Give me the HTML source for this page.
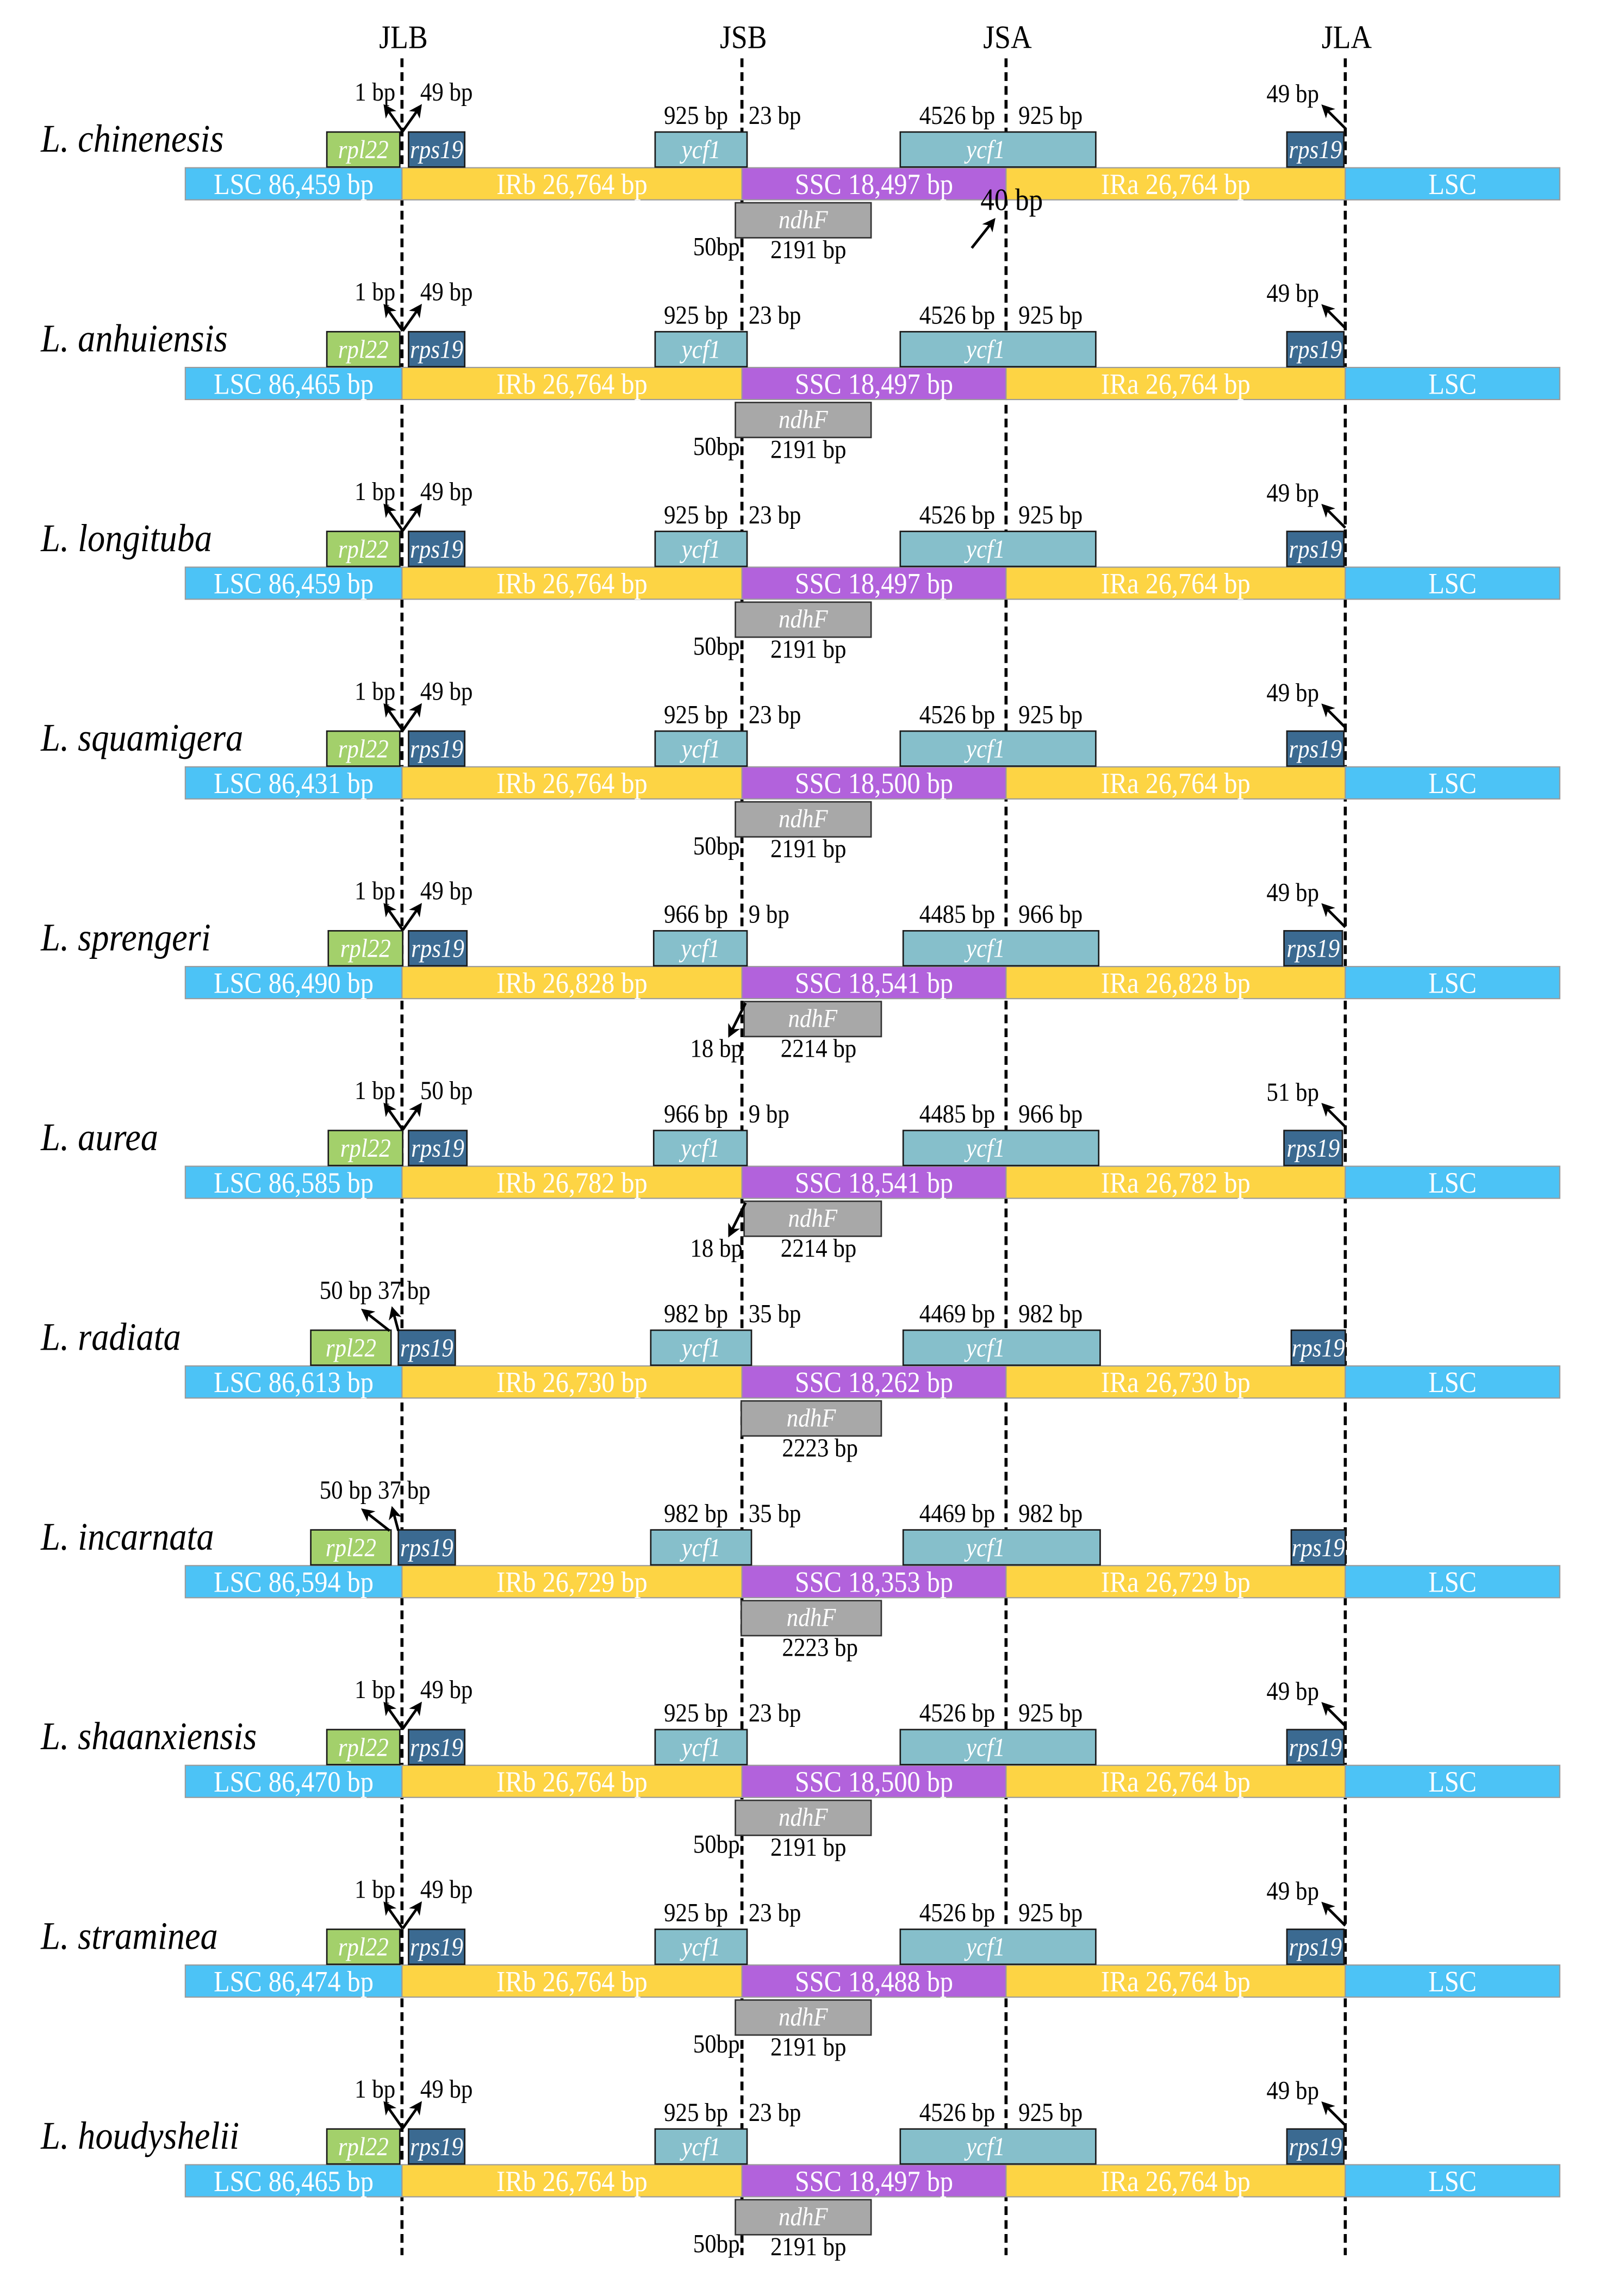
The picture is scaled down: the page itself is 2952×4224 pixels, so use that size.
<!DOCTYPE html>
<html><head><meta charset="utf-8">
<style>
html,body{margin:0;padding:0;background:#fff;}
svg{display:block;}
text{font-family:"Liberation Serif",serif;}
</style></head>
<body>
<svg id="chart" width="2952" height="4224" viewBox="0 0 1100 1574" preserveAspectRatio="none" xmlns="http://www.w3.org/2000/svg">
<defs>
<marker id="ah" markerWidth="9" markerHeight="9" refX="7" refY="4.5" orient="auto" markerUnits="userSpaceOnUse">
<path d="M0,0 L9,4.5 L0,9 L2.5,4.5 Z" fill="#000"/>
</marker>
</defs>
<rect x="0" y="0" width="1100" height="1574" fill="#fff"/>
<g id="junctions"></g>
<g id="rows"></g>
</svg>
<script>
const species=["L. chinenesis","L. anhuiensis","L. longituba","L. squamigera","L. sprengeri","L. aurea","L. radiata","L. incarnata","L. shaanxiensis","L. straminea","L. houdyshelii"];
const lscLen=["86,459","86,465","86,459","86,431","86,490","86,585","86,613","86,594","86,470","86,474","86,465"];
const irLen=["26,764","26,764","26,764","26,764","26,828","26,782","26,730","26,729","26,764","26,764","26,764"];
const sscLen=["18,497","18,497","18,497","18,500","18,541","18,541","18,262","18,353","18,500","18,488","18,497"];
const jlbLeft=["1 bp","1 bp","1 bp","1 bp","1 bp","1 bp","50 bp","50 bp","1 bp","1 bp","1 bp"];
const jlbRight=["49 bp","49 bp","49 bp","49 bp","49 bp","50 bp","37 bp","37 bp","49 bp","49 bp","49 bp"];
const ycfIR=["925 bp","925 bp","925 bp","925 bp","966 bp","966 bp","982 bp","982 bp","925 bp","925 bp","925 bp"];
const ycfSSCb=["23 bp","23 bp","23 bp","23 bp","9 bp","9 bp","35 bp","35 bp","23 bp","23 bp","23 bp"];
const ycfSSCa=["4526 bp","4526 bp","4526 bp","4526 bp","4485 bp","4485 bp","4469 bp","4469 bp","4526 bp","4526 bp","4526 bp"];
const jlaLabel=["49 bp","49 bp","49 bp","49 bp","49 bp","51 bp","","","49 bp","49 bp","49 bp"];
const ndhLeft=["50bp","50bp","50bp","50bp","18 bp","18 bp","","","50bp","50bp","50bp"];
const ndhLen=["2191 bp","2191 bp","2191 bp","2191 bp","2214 bp","2214 bp","2223 bp","2223 bp","2191 bp","2191 bp","2191 bp"];
const rowType=["A","A","A","A","B","B","C","C","A","A","A"];
const junctionNames=["JLB","JSB","JSA","JLA"];

const NS="http://www.w3.org/2000/svg";
const X={l0:127,jlb:275.5,jsb:508.5,jsa:689.5,jla:922,l1:1069};
const COL={lsc:"#4cc3f6",ir:"#fdd444",ssc:"#b262dc",rpl22:"#a3d06b",rps19:"#3b6a91",ycf1:"#86bfcb",ndhF:"#a8a8a8"};
const SY=1.12;
function el(tag,attrs,parent){const e=document.createElementNS(NS,tag);for(const k in attrs)e.setAttribute(k,attrs[k]);parent.appendChild(e);return e;}
function txt(parent,x,y,s,size,opts){const t=el("text",Object.assign({x:x,y:y/SY,"font-size":size,fill:"#000",transform:"scale(1,"+SY+")"},opts||{}),parent);t.textContent=s;return t;}

const jg=document.getElementById("junctions");
const jx=[X.jlb,X.jsb,X.jsa,X.jla];
junctionNames.forEach((n,i)=>{
  const l=el("line",{x1:jx[i],x2:jx[i],y1:40,y2:1546,stroke:"#000","stroke-width":2.1,"stroke-dasharray":"6,3.5"},jg);
  
  
  const t=txt(jg,jx[i]+1,33,n,20,{"text-anchor":"middle"});
  
  
});

const rg=document.getElementById("rows");
species.forEach((sp,i)=>{
  const B=115+i*136.9;
  const T=rowType[i];
  const g=el("g",{},rg);
  
  
  const sn=txt(g,28,B-11,sp,24,{"font-style":"italic"});
  
  
  const segs=[[X.l0,X.jlb,COL.lsc,"LSC  "+lscLen[i]+" bp","lsc-left"],[X.jlb,X.jsb,COL.ir,"IRb  "+irLen[i]+" bp","irb"],[X.jsb,X.jsa,COL.ssc,"SSC  "+sscLen[i]+" bp","ssc"],[X.jsa,X.jla,COL.ir,"IRa  "+irLen[i]+" bp","ira"],[X.jla,X.l1,COL.lsc,"LSC","lsc-right"]];
  segs.forEach(s=>{
    const r=el("rect",{x:s[0],y:B,width:s[1]-s[0],height:22,fill:s[2],stroke:"#9a9a9a","stroke-width":0.8},g);
    
    
    const t=txt(g,(s[0]+s[1])/2,B+18,s[3],18,{"text-anchor":"middle",fill:"#fff","xml:space":"preserve"});
    
    
  });
  let genes;
  if(T==="A") genes=[[224,274,COL.rpl22,"rpl22"],[280,318.5,COL.rps19,"rps19"],[449,512,COL.ycf1,"ycf1"],[617,751,COL.ycf1,"ycf1"],[882,921,COL.rps19,"rps19"]];
  else if(T==="B") genes=[[225,276,COL.rpl22,"rpl22"],[280,320,COL.rps19,"rps19"],[448,512,COL.ycf1,"ycf1"],[619,753,COL.ycf1,"ycf1"],[880,920,COL.rps19,"rps19"]];
  else genes=[[213,268,COL.rpl22,"rpl22"],[273,312,COL.rps19,"rps19"],[446,515,COL.ycf1,"ycf1"],[619,754,COL.ycf1,"ycf1"],[885,922,COL.rps19,"rps19"]];
  genes.forEach((gn,k)=>{
    const r=el("rect",{x:gn[0],y:B-24.5,width:gn[1]-gn[0],height:24,fill:gn[2],stroke:"#1a1a1a","stroke-width":1},g);
    
    
    let cx=(gn[0]+gn[1])/2;
    if(k===3) cx=X.jsa-14;
    const t=txt(g,cx,B-6.5,gn[3],16,{"text-anchor":"middle",fill:"#fff","font-style":"italic"});
    
    
  });
  const nd = T==="A"?[504,597]:(T==="B"?[510,604]:[508,604]);
  const nr=el("rect",{x:nd[0],y:B+24,width:nd[1]-nd[0],height:24,fill:COL.ndhF,stroke:"#333","stroke-width":1},g);
  
  
  const nt=txt(g,(nd[0]+nd[1])/2,B+41.5,"ndhF",16,{"text-anchor":"middle",fill:"#fff","font-style":"italic"});
  
  
  function ann(x,y,s,anchor,name){const t=txt(g,x,y,s,16,{"text-anchor":anchor});}
  function arrow(x1,y1,x2,y2,name){const a=el("line",{x1:x1,y1:y1,x2:x2,y2:y2,stroke:"#000","stroke-width":1.8,"marker-end":"url(#ah)"},g);}
  if(T==="C"){
    ann(219,B-46,jlbLeft[i],"start","jlb-left-label");
    ann(259,B-46,jlbRight[i],"start","jlb-right-label");
    arrow(267,B-24,249,B-38,"jlb-left-arrow");
    arrow(273,B-24,269,B-39,"jlb-right-arrow");
  } else {
    ann(271,B-46,jlbLeft[i],"end","jlb-left-label");
    ann(288,B-46,jlbRight[i],"start","jlb-right-label");
    arrow(276,B-25,264,B-42,"jlb-left-arrow");
    arrow(276,B-25,288,B-42,"jlb-right-arrow");
  }
  ann(499,B-30,ycfIR[i],"end","ycf1-ir-label");
  ann(513,B-30,ycfSSCb[i],"start","ycf1-jsb-label");
  ann(682,B-30,ycfSSCa[i],"end","ycf1-ssc-label");
  ann(698,B-30,ycfIR[i],"start","ycf1-ira-label");
  if(jlaLabel[i]){
    ann(904,B-45,jlaLabel[i],"end","jla-label");
    arrow(922,B-27,907,B-42,"jla-arrow");
  }
  if(T==="A"){
    ann(507,B+60,ndhLeft[i],"end","ndhf-jsb-label");
    ann(528,B+62,ndhLen[i],"start","ndhf-length-label");
  } else if(T==="B"){
    ann(509,B+62,ndhLeft[i],"end","ndhf-jsb-label");
    arrow(511,B+25,500,B+47,"ndhf-arrow");
    ann(561,B+62,ndhLen[i],"middle","ndhf-length-label");
  } else {
    ann(562,B+62,ndhLen[i],"middle","ndhf-length-label");
  }
  if(i===0){
    const t=txt(g,672,B+29,"40 bp",19,{});
    
    
    arrow(666,B+55,681,B+36,"jsa-extra-arrow");
  }
});
</script>
</body></html>
